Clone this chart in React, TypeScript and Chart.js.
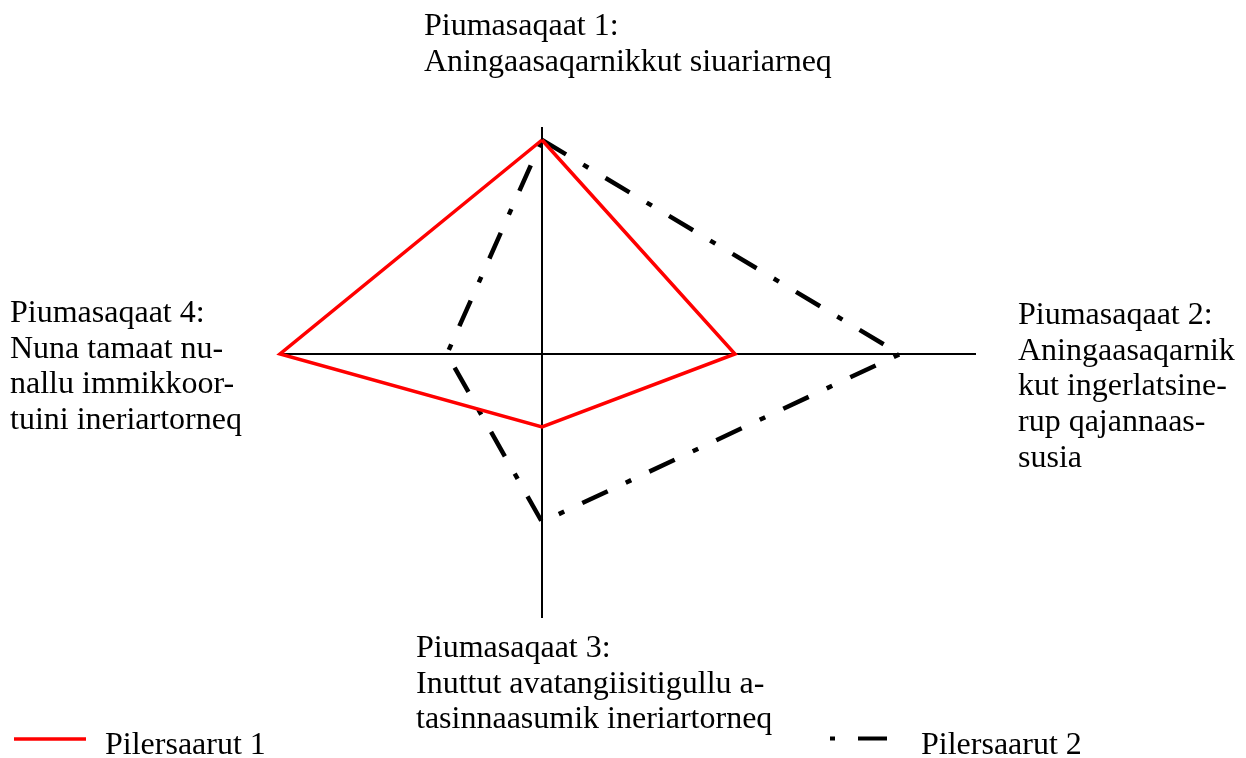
import React, { useEffect, useRef } from "react";
import { Chart, registerables } from "chart.js";

Chart.register(...registerables);

// Axis order: top (1), right (2), bottom (3), left (4)
const axisNames = ["Piumasaqaat 1", "Piumasaqaat 2", "Piumasaqaat 3", "Piumasaqaat 4"];
const pillar1Values = [214, 193, 73, 262];
const pillar2Values = [214, 358, 168, 95];
const seriesNames = ["Pilersaarut 1", "Pilersaarut 2"];
const xRange = [-262, 433];
const yRange = [-263, 226];

const axisDirections = [
  [0, 1],
  [1, 0],
  [0, -1],
  [-1, 0],
];

function toPolygon(values: number[]) {
  const pts = values.map((v, i) => ({ x: axisDirections[i][0] * v, y: axisDirections[i][1] * v }));
  pts.push({ ...pts[0] });
  return pts;
}

const FONT = '"Liberation Serif", "Times New Roman", serif';

const labelStyle: React.CSSProperties = {
  position: "absolute",
  fontFamily: FONT,
  fontSize: "32px",
  lineHeight: "35.7px",
  color: "#000",
  whiteSpace: "pre",
  margin: 0,
};

export default function App() {
  const canvasRef = useRef<HTMLCanvasElement | null>(null);

  useEffect(() => {
    if (!canvasRef.current) return;
    const legendPlugin = {
      id: "customLegend",
      afterDraw(chart: any) {
        const ctx = chart.ctx;
        const ds = chart.data.datasets;
        ctx.save();
        ctx.lineCap = "butt";
        // series 1 sample
        ctx.strokeStyle = ds[0].borderColor;
        ctx.lineWidth = 3.5;
        ctx.beginPath();
        ctx.moveTo(14, 739);
        ctx.lineTo(86, 739);
        ctx.stroke();
        // series 2 sample (dot + dash)
        ctx.strokeStyle = ds[1].borderColor;
        ctx.lineWidth = 4;
        ctx.beginPath();
        ctx.moveTo(830, 738.5);
        ctx.lineTo(835, 738.5);
        ctx.moveTo(858, 738.5);
        ctx.lineTo(887, 738.5);
        ctx.stroke();
        ctx.restore();
      },
    };

    const chart = new Chart(canvasRef.current, {
      type: "scatter",
      data: {
        datasets: [
          {
            label: seriesNames[0],
            data: toPolygon(pillar1Values),
            showLine: true,
            borderColor: "#ff0000",
            borderWidth: 3.5,
            pointRadius: 0,
            tension: 0,
            fill: false,
            clip: false,
          } as any,
          {
            label: seriesNames[1],
            data: toPolygon(pillar2Values),
            showLine: true,
            borderColor: "#000000",
            borderWidth: 4.5,
            borderDash: [28, 20, 6, 20],
            pointRadius: 0,
            tension: 0,
            fill: false,
            clip: false,
          } as any,
        ],
      },
      options: {
        responsive: false,
        animation: false,
        layout: { padding: { left: 280, right: 271, top: 128, bottom: 141 } },
        plugins: { legend: { display: false }, tooltip: { enabled: false } },
        scales: {
          x: {
            type: "linear",
            min: xRange[0],
            max: xRange[1],
            position: { y: 0 } as any,
            grid: { display: false },
            ticks: { display: false },
            border: { display: true, color: "#000", width: 2 },
          },
          y: {
            type: "linear",
            min: yRange[0],
            max: yRange[1],
            position: { x: 0 } as any,
            grid: { display: false },
            ticks: { display: false },
            border: { display: true, color: "#000", width: 2 },
          },
        },
      } as any,
      plugins: [legendPlugin],
    });
    return () => chart.destroy();
  }, []);

  return (
    <div style={{ position: "absolute", left: 0, top: 0, width: 1246, height: 758, background: "#fff" }}>
      <canvas ref={canvasRef} width={1246} height={758} style={{ position: "absolute", left: 0, top: 0 }} />
      <div style={{ ...labelStyle, left: 424, top: 7 }}>{axisNames[0] + ":\nAningaasaqarnikkut siuariarneq"}</div>
      <div style={{ ...labelStyle, left: 1018, top: 296 }}>
        {axisNames[1] + ":\nAningaasaqarnik\nkut ingerlatsine-\nrup qajannaas-\nsusia"}
      </div>
      <div style={{ ...labelStyle, left: 416, top: 629 }}>
        {axisNames[2] + ":\nInuttut avatangiisitigullu a-\ntasinnaasumik ineriartorneq"}
      </div>
      <div style={{ ...labelStyle, left: 10, top: 294 }}>
        {axisNames[3] + ":\nNuna tamaat nu-\nnallu immikkoor-\ntuini ineriartorneq"}
      </div>
      <div style={{ ...labelStyle, left: 105, top: 726 }}>{seriesNames[0]}</div>
      <div style={{ ...labelStyle, left: 921, top: 726 }}>{seriesNames[1]}</div>
    </div>
  );
}
